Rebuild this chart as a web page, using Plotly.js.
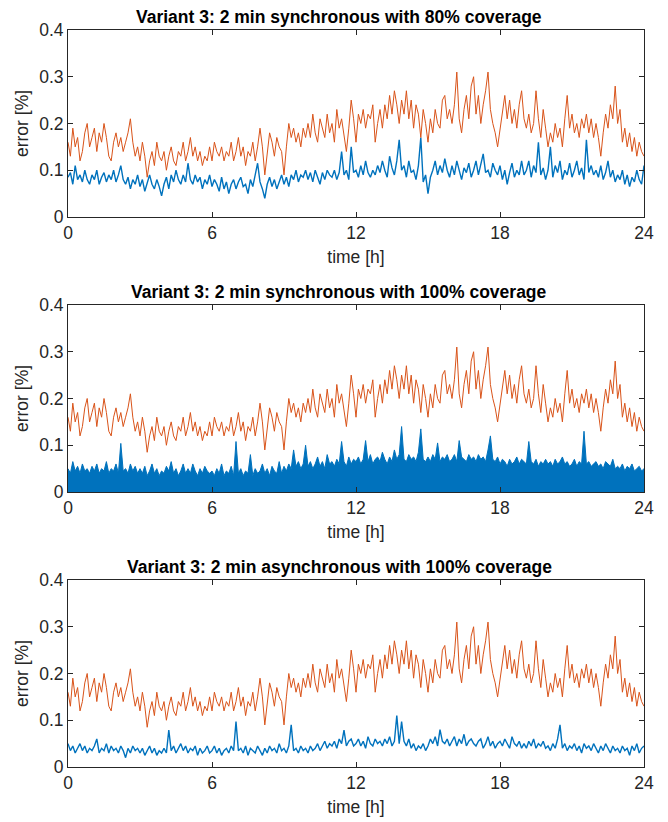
<!DOCTYPE html>
<html>
<head>
<meta charset="utf-8">
<script src="https://cdn.plot.ly/plotly-3.0.1.min.js"></script>
<style>html,body{margin:0;padding:0;background:#fff;}#chart{width:668px;height:822px;}</style>
</head>
<body>
<div id="chart"></div>
<script>
// Reference (orange) series, sampled every 0.1 h from 0 to 24 h
const orangeErr = [
0.16,0.13,0.19,0.15,0.17,0.12,0.14,0.18,0.20,0.15,
0.17,0.19,0.14,0.18,0.16,0.20,0.17,0.13,0.12,0.16,
0.18,0.15,0.17,0.14,0.16,0.18,0.21,0.16,0.13,0.15,
0.12,0.16,0.13,0.085,0.12,0.14,0.11,0.16,0.13,0.12,
0.14,0.10,0.13,0.15,0.12,0.11,0.14,0.13,0.16,0.12,
0.14,0.17,0.13,0.15,0.12,0.14,0.11,0.13,0.12,0.15,
0.12,0.16,0.14,0.13,0.15,0.12,0.14,0.13,0.16,0.12,
0.14,0.17,0.13,0.15,0.11,0.14,0.13,0.16,0.12,0.15,
0.19,0.15,0.09,0.14,0.18,0.16,0.13,0.17,0.15,0.14,
0.09,0.15,0.20,0.17,0.19,0.16,0.18,0.15,0.19,0.17,
0.20,0.17,0.22,0.18,0.16,0.21,0.19,0.17,0.22,0.18,
0.20,0.16,0.23,0.19,0.21,0.17,0.14,0.19,0.25,0.21,
0.16,0.22,0.20,0.23,0.19,0.22,0.21,0.24,0.16,0.20,
0.23,0.19,0.24,0.21,0.26,0.22,0.27,0.24,0.20,0.25,
0.22,0.27,0.21,0.25,0.19,0.24,0.22,0.17,0.23,0.20,
0.16,0.21,0.18,0.23,0.20,0.19,0.25,0.26,0.21,0.23,
0.20,0.24,0.31,0.21,0.18,0.23,0.26,0.21,0.28,0.30,
0.22,0.26,0.20,0.24,0.27,0.31,0.23,0.20,0.18,0.15,
0.19,0.22,0.26,0.21,0.25,0.20,0.23,0.19,0.24,0.27,
0.21,0.19,0.22,0.18,0.20,0.27,0.21,0.17,0.23,0.19,
0.15,0.18,0.16,0.20,0.17,0.19,0.15,0.21,0.26,0.19,
0.22,0.18,0.20,0.17,0.21,0.19,0.22,0.18,0.21,0.17,
0.20,0.17,0.13,0.18,0.22,0.19,0.24,0.21,0.28,0.20,
0.23,0.16,0.19,0.15,0.18,0.14,0.17,0.13,0.16,0.14,
0.13];

// Variant 3, 80% coverage (blue, panel 1)
const blue80 = [
0.085,0.095,0.07,0.11,0.08,0.09,0.075,0.1,0.08,0.07,
0.09,0.08,0.1,0.07,0.085,0.095,0.075,0.09,0.08,0.1,
0.075,0.09,0.11,0.08,0.07,0.085,0.06,0.08,0.07,0.09,
0.065,0.08,0.055,0.075,0.09,0.07,0.06,0.08,0.065,0.045,
0.07,0.085,0.06,0.09,0.075,0.1,0.08,0.07,0.09,0.075,
0.115,0.08,0.07,0.09,0.075,0.085,0.06,0.08,0.07,0.09,
0.065,0.08,0.07,0.055,0.085,0.06,0.075,0.05,0.07,0.08,
0.06,0.075,0.085,0.065,0.07,0.05,0.08,0.065,0.09,0.115,
0.075,0.06,0.04,0.07,0.085,0.065,0.08,0.06,0.075,0.09,
0.07,0.085,0.065,0.09,0.08,0.1,0.075,0.09,0.085,0.1,
0.08,0.095,0.075,0.1,0.085,0.07,0.095,0.08,0.1,0.09,
0.085,0.1,0.08,0.095,0.14,0.09,0.1,0.08,0.15,0.095,
0.1,0.085,0.11,0.09,0.12,0.095,0.085,0.1,0.09,0.11,
0.095,0.12,0.1,0.085,0.13,0.105,0.09,0.12,0.165,0.1,
0.11,0.085,0.12,0.095,0.1,0.08,0.11,0.17,0.075,0.09,
0.05,0.085,0.1,0.12,0.09,0.11,0.095,0.125,0.1,0.085,
0.11,0.09,0.12,0.1,0.08,0.105,0.095,0.115,0.085,0.1,
0.12,0.09,0.11,0.135,0.095,0.1,0.085,0.115,0.1,0.09,
0.11,0.08,0.1,0.07,0.095,0.115,0.085,0.1,0.09,0.12,
0.09,0.1,0.12,0.085,0.11,0.095,0.16,0.09,0.105,0.08,
0.1,0.15,0.085,0.11,0.095,0.12,0.08,0.1,0.09,0.115,
0.085,0.1,0.12,0.09,0.105,0.08,0.165,0.095,0.11,0.09,
0.1,0.085,0.11,0.08,0.095,0.12,0.085,0.1,0.075,0.09,
0.08,0.1,0.07,0.09,0.065,0.085,0.075,0.1,0.08,0.07,
0.11];

// Variant 3, 100% coverage synchronous (blue, panel 2) - upper envelope
const blue100sync = [
0.05,0.04,0.065,0.045,0.055,0.04,0.06,0.045,0.05,0.04,
0.055,0.045,0.06,0.04,0.05,0.045,0.065,0.04,0.05,0.045,
0.06,0.04,0.104,0.045,0.05,0.04,0.06,0.045,0.055,0.04,
0.05,0.04,0.055,0.035,0.045,0.06,0.04,0.05,0.035,0.045,
0.04,0.055,0.045,0.065,0.04,0.05,0.035,0.045,0.06,0.04,
0.05,0.04,0.06,0.045,0.035,0.05,0.04,0.055,0.045,0.04,
0.045,0.035,0.05,0.04,0.06,0.035,0.045,0.04,0.055,0.035,
0.108,0.04,0.05,0.035,0.045,0.04,0.08,0.035,0.05,0.04,
0.045,0.06,0.04,0.05,0.035,0.055,0.045,0.04,0.065,0.04,
0.055,0.045,0.06,0.05,0.09,0.055,0.065,0.05,0.06,0.1,
0.055,0.065,0.05,0.06,0.075,0.055,0.065,0.05,0.08,0.06,
0.065,0.055,0.07,0.06,0.108,0.065,0.055,0.075,0.06,0.07,
0.065,0.075,0.06,0.07,0.11,0.065,0.08,0.06,0.07,0.075,
0.065,0.085,0.07,0.06,0.075,0.065,0.09,0.07,0.08,0.14,
0.07,0.065,0.08,0.07,0.075,0.065,0.085,0.135,0.07,0.065,
0.075,0.065,0.08,0.07,0.105,0.065,0.075,0.07,0.08,0.065,
0.07,0.08,0.065,0.11,0.075,0.07,0.065,0.08,0.07,0.075,
0.065,0.08,0.07,0.075,0.065,0.09,0.12,0.07,0.065,0.075,
0.06,0.07,0.065,0.055,0.07,0.06,0.065,0.075,0.06,0.07,
0.065,0.06,0.108,0.065,0.06,0.07,0.055,0.065,0.06,0.07,
0.06,0.065,0.055,0.07,0.06,0.065,0.075,0.06,0.065,0.055,
0.06,0.07,0.055,0.065,0.06,0.13,0.06,0.065,0.055,0.06,
0.065,0.055,0.06,0.05,0.065,0.06,0.055,0.07,0.05,0.055,
0.05,0.06,0.045,0.055,0.05,0.06,0.045,0.05,0.055,0.045,
0.05];

// Variant 3, 100% coverage asynchronous (blue, panel 3)
const blue100async = [
0.05,0.035,0.045,0.03,0.04,0.05,0.035,0.045,0.03,0.04,
0.035,0.045,0.06,0.03,0.04,0.035,0.05,0.03,0.045,0.035,
0.04,0.03,0.045,0.035,0.02,0.04,0.03,0.045,0.035,0.04,
0.03,0.04,0.025,0.035,0.045,0.03,0.04,0.025,0.035,0.03,
0.04,0.03,0.079,0.035,0.045,0.03,0.04,0.05,0.035,0.045,
0.03,0.04,0.035,0.045,0.025,0.04,0.03,0.035,0.045,0.03,
0.035,0.045,0.03,0.04,0.025,0.035,0.04,0.03,0.045,0.035,
0.097,0.035,0.04,0.03,0.045,0.025,0.04,0.035,0.03,0.045,
0.035,0.025,0.04,0.03,0.045,0.035,0.04,0.03,0.05,0.035,
0.04,0.03,0.045,0.09,0.035,0.04,0.03,0.045,0.035,0.04,
0.03,0.045,0.035,0.04,0.05,0.035,0.045,0.055,0.04,0.05,
0.045,0.055,0.04,0.06,0.05,0.079,0.045,0.055,0.06,0.045,
0.05,0.06,0.045,0.055,0.04,0.065,0.05,0.045,0.06,0.05,
0.055,0.045,0.06,0.05,0.065,0.045,0.055,0.11,0.05,0.097,
0.055,0.045,0.06,0.04,0.05,0.035,0.045,0.04,0.05,0.035,
0.045,0.06,0.05,0.065,0.045,0.08,0.055,0.05,0.06,0.045,
0.055,0.065,0.045,0.06,0.05,0.07,0.045,0.055,0.06,0.05,
0.045,0.055,0.06,0.04,0.05,0.065,0.045,0.055,0.04,0.05,
0.055,0.045,0.06,0.05,0.04,0.065,0.05,0.045,0.055,0.04,
0.05,0.04,0.055,0.045,0.06,0.04,0.05,0.045,0.055,0.04,
0.045,0.035,0.05,0.04,0.06,0.09,0.04,0.05,0.035,0.045,
0.04,0.05,0.035,0.045,0.03,0.05,0.04,0.045,0.035,0.05,
0.04,0.03,0.045,0.035,0.05,0.04,0.03,0.045,0.035,0.04,
0.03,0.045,0.035,0.04,0.025,0.045,0.035,0.05,0.03,0.04,
0.045];

const panelTitles = [
  "Variant 3: 2 min synchronous with 80% coverage",
  "Variant 3: 2 min synchronous with 100% coverage",
  "Variant 3: 2 min asynchronous with 100% coverage"
];
const xTickVals = [0, 6, 12, 18, 24];
const yTickVals = [0, 0.1, 0.2, 0.3, 0.4];
const yTickText = ["0", "0.1", "0.2", "0.3", "0.4"];
const stepHours = 0.1;

const timeH = orangeErr.map((_, i) => +(i * stepHours).toFixed(2));

const BLUE = "#0072BD", ORANGE = "#D95319", AX = "#262626";
const FONT = "Liberation Sans, Arial, Helvetica, sans-serif";

const blues = [blue80, blue100sync, blue100async];
const traces = [];
blues.forEach((b, k) => {
  const xa = k === 0 ? "x" : "x" + (k + 1);
  const ya = k === 0 ? "y" : "y" + (k + 1);
  traces.push({
    x: timeH, y: b, xaxis: xa, yaxis: ya, type: "scatter", mode: "lines",
    line: {color: BLUE, width: k === 1 ? 1 : 1.4}, fill: k === 1 ? "tozeroy" : "none",
    fillcolor: BLUE, hoverinfo: "skip", showlegend: false
  });
  traces.push({
    x: timeH, y: orangeErr, xaxis: xa, yaxis: ya, type: "scatter", mode: "lines",
    line: {color: ORANGE, width: 1}, hoverinfo: "skip", showlegend: false
  });
});

const domains = [[0.7463, 1], [0.3731, 0.6269], [0, 0.2537]];

function xAxis(k) {
  return {
    domain: [0, 1], anchor: k === 0 ? "y" : "y" + (k + 1),
    range: [0, 24], tickvals: xTickVals, ticks: "inside", ticklen: 5,
    tickcolor: AX, showline: true, linecolor: AX, linewidth: 1, mirror: "ticks",
    showgrid: false, zeroline: false,
    tickfont: {family: FONT, size: 17.5, color: AX},
    title: {text: "time [h]", font: {family: FONT, size: 17.5, color: AX}, standoff: 8}
  };
}
function yAxis(k) {
  return {
    domain: domains[k], anchor: k === 0 ? "x" : "x" + (k + 1),
    range: [0, 0.4], tickvals: yTickVals, ticktext: yTickText,
    ticks: "inside", ticklen: 5, tickcolor: AX,
    showline: true, linecolor: AX, linewidth: 1, mirror: "ticks",
    showgrid: false, zeroline: false,
    tickfont: {family: FONT, size: 17.5, color: AX},
    title: {text: "error [%]", font: {family: FONT, size: 17.5, color: AX}, standoff: 6}
  };
}

const layout = {
  width: 668, height: 822,
  margin: {l: 68, r: 24, t: 30, b: 55},
  paper_bgcolor: "#fff", plot_bgcolor: "#fff",
  showlegend: false,
  xaxis: xAxis(0), xaxis2: xAxis(1), xaxis3: xAxis(2),
  yaxis: yAxis(0), yaxis2: yAxis(1), yaxis3: yAxis(2),
  annotations: panelTitles.map((t, k) => ({
    text: "<b>" + t + "</b>", xref: "paper", yref: "paper",
    x: 0.5, y: domains[k][1], xanchor: "center", yanchor: "bottom",
    xshift: -17, yshift: 1, showarrow: false,
    font: {family: FONT, size: 17.5, color: "#000"}
  }))
};

Plotly.newPlot("chart", traces, layout, {staticPlot: true, displayModeBar: false});
</script>
</body>
</html>
